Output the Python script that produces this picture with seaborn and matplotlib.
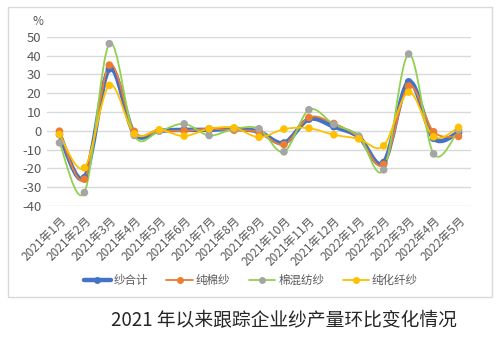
import numpy as np
import pandas as pd
import seaborn as sns
import matplotlib.pyplot as plt
from matplotlib.path import Path
from matplotlib.patches import PathPatch, Rectangle
from matplotlib.lines import Line2D

sns.set_theme(style="white")
plt.rcParams['font.family'] = ['Noto Sans CJK SC', 'DejaVu Sans']
plt.rcParams['axes.unicode_minus'] = False

months = ["2021年1月", "2021年2月", "2021年3月", "2021年4月", "2021年5月", "2021年6月",
          "2021年7月", "2021年8月", "2021年9月", "2021年10月", "2021年11月", "2021年12月",
          "2022年1月", "2022年2月", "2022年3月", "2022年4月", "2022年5月"]

yarn_total = [-2.0, -25.0, 33.0, -1.5, 0.0, 0.5, 0.5, 1.0, -0.5, -6.5, 6.2, 2.2, -3.2, -16.9, 26.1, -4.0, -0.9]
pure_cotton = [-0.2, -25.8, 35.0, -0.3, 0.0, 0.0, 1.0, 0.3, -0.7, -7.3, 7.1, 3.9, -3.5, -17.9, 23.8, -0.5, -3.0]
cotton_blend = [-6.4, -32.9, 46.4, -2.5, -0.2, 3.7, -2.5, 1.0, 1.1, -11.2, 11.2, 3.4, -2.8, -20.8, 40.9, -12.3, 0.4]
pure_synthetic = [-2.0, -19.7, 24.2, -1.6, 0.5, -2.8, 1.1, 1.6, -3.4, 0.9, 1.4, -2.1, -4.3, -8.0, 20.6, -3.2, 1.8]

series_names = ["纱合计", "纯棉纱", "棉混纺纱", "纯化纤纱"]
series_values = [yarn_total, pure_cotton, cotton_blend, pure_synthetic]
line_colors = ["#4472C4", "#ED7D31", "#92D050", "#FFC000"]
marker_colors = ["#4472C4", "#ED7D31", "#A5A5A5", "#FFC000"]
line_widths = [3.2, 1.3, 1.3, 1.3]

df = pd.DataFrame({
    "idx": np.tile(np.arange(len(months)), len(series_names)),
    "value": np.concatenate(series_values),
    "series": np.repeat(series_names, len(months)),
})

fig = plt.figure(figsize=(5.0, 3.42), dpi=100)
ax = fig.add_axes([0.094, 0.398, 0.848, 0.494])

# outer chart frame
fig.patches.append(Rectangle((0.016, 0.132), 0.968, 0.848, transform=fig.transFigure,
                             fill=False, edgecolor="#D9D9D9", linewidth=1.0, zorder=0))


def smooth_path(x, y):
    """Cubic Bezier path through the points (Catmull-Rom style control points)."""
    pts = np.column_stack([x, y]).astype(float)
    n = len(pts)
    verts = [pts[0]]
    codes = [Path.MOVETO]
    for i in range(n - 1):
        p0 = pts[i - 1] if i > 0 else pts[i]
        p1 = pts[i]
        p2 = pts[i + 1]
        p3 = pts[i + 2] if i + 2 < n else pts[i + 1]
        c1 = p1 + (p2 - p0) / 6.0
        c2 = p2 - (p3 - p1) / 6.0
        verts += [c1, c2, p2]
        codes += [Path.CURVE4] * 3
    return Path(verts, codes)


for k, name in enumerate(series_names):
    sub = df[df["series"] == name]
    patch = PathPatch(smooth_path(sub["idx"].values, sub["value"].values),
                      fill=False, edgecolor=line_colors[k], linewidth=line_widths[k],
                      capstyle="round", joinstyle="round", zorder=2 + k * 0.1)
    ax.add_patch(patch)

sns.scatterplot(data=df, x="idx", y="value", hue="series", palette=marker_colors,
                hue_order=series_names, s=30, edgecolor=None, linewidth=0,
                legend=False, ax=ax, zorder=3)
for coll in ax.collections:
    coll.set_zorder(3)

ax.set_xlim(-0.5, len(months) - 0.5)
ax.set_ylim(-40, 50)
ax.set_yticks(np.arange(-40, 51, 10))
ax.set_xticks(np.arange(len(months)))
ax.set_xticklabels(months, rotation=45, ha="right", rotation_mode="anchor",
                   fontsize=8.5, color="#595959")
ax.tick_params(axis="y", labelsize=9.5, labelcolor="#595959", length=0, pad=4)
ax.tick_params(axis="x", length=0, pad=6)
ax.set_xlabel("")
ax.set_ylabel("")
ax.grid(axis="y", color="#D9D9D9", linewidth=1.0)
ax.set_axisbelow(True)
for s in ax.spines.values():
    s.set_visible(False)

ax.text(-0.021, 1.089, "%", transform=ax.transAxes, fontsize=8.5, color="#595959",
        ha="center", va="center")

handles = [Line2D([0], [0], color=line_colors[k], linewidth=line_widths[k],
                  marker="o", markersize=5, markerfacecolor=marker_colors[k],
                  markeredgewidth=0) for k in range(len(series_names))]
fig.legend(handles, series_names, loc="center", bbox_to_anchor=(0.502, 0.181), ncol=4,
           frameon=False, fontsize=8.3, handlelength=2.3, columnspacing=1.6,
           handletextpad=0.25, labelcolor="#595959", borderpad=0.2)

fig.text(0.567, 0.062, "2021 年以来跟踪企业纱产量环比变化情况", ha="center", va="center",
         fontsize=13.5, color="#262626")

fig.savefig("out.png", dpi=100, facecolor="white")
